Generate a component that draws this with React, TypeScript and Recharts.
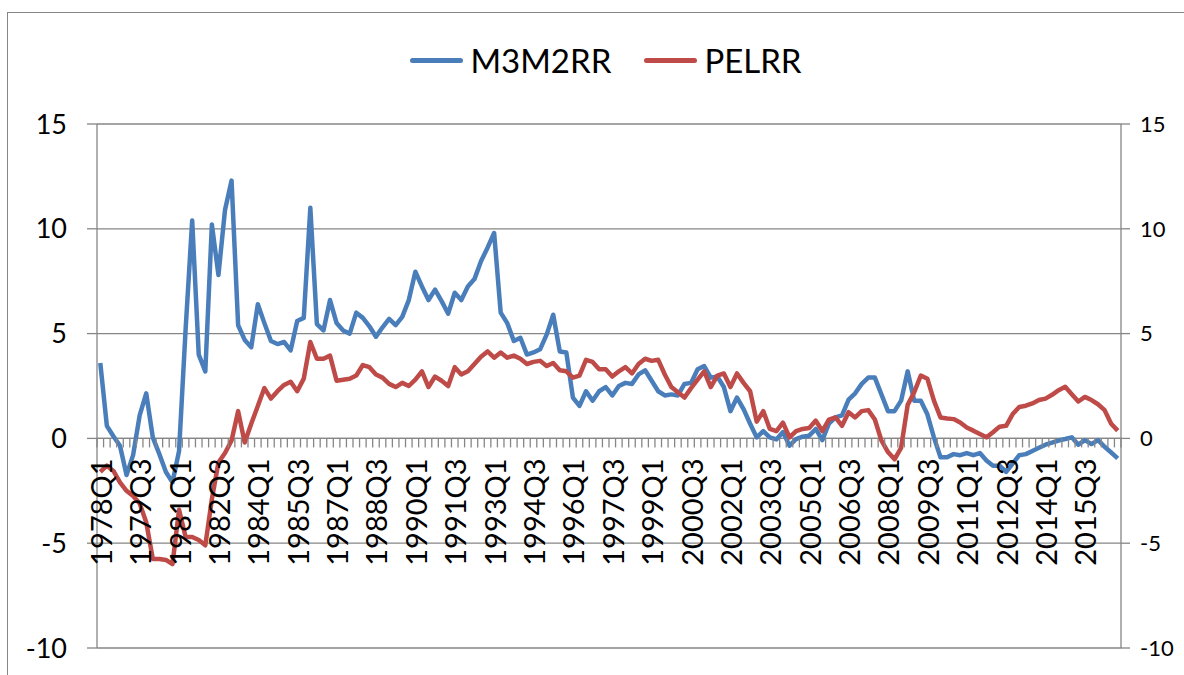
import { LineChart, Line, XAxis, YAxis, CartesianGrid, Legend, ReferenceLine } from 'recharts'

// quarterly labels 1978Q1 .. 2016Q4
const START_YEAR = 1978
const END_YEAR = 2016
const quarters: string[] = []
for (let y = START_YEAR; y <= END_YEAR; y++) {
  for (let q = 1; q <= 4; q++) quarters.push(`${y}Q${q}`)
}

const m3m2rr = [
  3.6, 0.6, 0.1, -0.35, -1.75, -0.8, 1.1, 2.15, 0.05, -0.75,
  -1.6, -2.1, -0.6, 5.2, 10.4, 4.0, 3.2, 10.2, 7.8, 10.9,
  12.3, 5.4, 4.7, 4.35, 6.4, 5.5, 4.65, 4.5, 4.6, 4.2,
  5.6, 5.75, 11.0, 5.45, 5.15, 6.6, 5.5, 5.15, 5.0, 6.0,
  5.75, 5.35, 4.85, 5.3, 5.7, 5.4, 5.8, 6.6, 7.95, 7.25,
  6.6, 7.1, 6.55, 5.95, 6.95, 6.6, 7.25, 7.6, 8.45, 9.1,
  9.8, 6.0, 5.5, 4.65, 4.8, 4.0, 4.1, 4.25, 4.95, 5.9,
  4.15, 4.1, 1.95, 1.55, 2.25, 1.8, 2.25, 2.45, 2.05, 2.5,
  2.65, 2.6, 3.05, 3.25, 2.75, 2.25, 2.05, 2.1, 2.05, 2.6,
  2.65, 3.3, 3.45, 2.9, 2.95, 2.45, 1.3, 1.95, 1.4, 0.7,
  0.05, 0.35, 0.05, -0.05, 0.3, -0.35, -0.03, 0.08, 0.13, 0.45,
  -0.08, 0.7, 1.0, 1.1, 1.85, 2.15, 2.6, 2.9, 2.9, 2.1,
  1.3, 1.3, 1.8, 3.2, 1.8, 1.8, 1.15, 0.05, -0.9, -0.9,
  -0.75, -0.8, -0.7, -0.8, -0.7, -1.05, -1.3, -1.3, -1.6, -1.2,
  -0.8, -0.75, -0.6, -0.45, -0.3, -0.2, -0.1, -0.03, 0.05, -0.3,
  -0.08, -0.27, -0.08, -0.4, -0.67, -0.95,
]

const pelrr = [
  -1.6, -1.3, -1.55, -2.1, -2.5, -2.75, -3.1, -4.0, -5.75, -5.75,
  -5.8, -6.0, -3.4, -4.7, -4.7, -4.85, -5.1, -2.9, -1.15, -0.7,
  -0.1, 1.3, -0.2, 0.7, 1.55, 2.4, 1.9, 2.25, 2.55, 2.7,
  2.25, 2.85, 4.6, 3.8, 3.8, 3.95, 2.75, 2.8, 2.85, 3.0,
  3.5, 3.4, 3.05, 2.9, 2.6, 2.45, 2.65, 2.5, 2.8, 3.2,
  2.45, 2.95, 2.75, 2.5, 3.4, 3.05, 3.2, 3.55, 3.9, 4.15,
  3.85, 4.1, 3.85, 3.95, 3.8, 3.55, 3.65, 3.7, 3.45, 3.6,
  3.25, 3.2, 2.9, 3.0, 3.75, 3.65, 3.3, 3.3, 2.95, 3.2,
  3.4, 3.1, 3.55, 3.8, 3.7, 3.75, 3.05, 2.45, 2.2, 1.95,
  2.4, 2.8, 3.2, 2.45, 3.0, 3.1, 2.45, 3.1, 2.65, 2.25,
  0.8, 1.3, 0.45, 0.35, 0.75, 0.05, 0.35, 0.45, 0.5, 0.85,
  0.35, 0.9, 1.0, 0.6, 1.25, 1.0, 1.3, 1.35, 0.9, -0.1,
  -0.65, -1.0, -0.45, 1.6, 2.2, 3.0, 2.85, 1.8, 1.0, 0.95,
  0.92, 0.76, 0.52, 0.37, 0.21, 0.05, 0.29, 0.56, 0.6, 1.16,
  1.5, 1.56, 1.67, 1.83, 1.9, 2.08, 2.3, 2.46, 2.11, 1.76,
  1.98, 1.83, 1.63, 1.35, 0.7, 0.37,
]

const yTicks = [-10, -5, 0, 5, 10, 15]
const LABEL_EVERY = 6

const data = quarters.map((q, i) => ({ q, M3M2RR: m3m2rr[i], PELRR: pelrr[i] }))

const W = 1184
const H = 675
const LEFT_AXIS_W = 97
const RIGHT_AXIS_W = 63
const TOP = 124
const X_AXIS_H = 1
const BOTTOM = 26
const PLOT_W = W - LEFT_AXIS_W - RIGHT_AXIS_W
const PLOT_H = H - TOP - BOTTOM - X_AXIS_H
const CAT_W = PLOT_W / data.length
const Y_MIN = yTicks[0]
const Y_MAX = yTicks[yTicks.length - 1]
// the category axis crosses the value axis at 0
const ZERO_Y = TOP + ((Y_MAX - 0) / (Y_MAX - Y_MIN)) * PLOT_H
const GRID = '#868686'
const FONT = 'Lato, "Open Sans", sans-serif'

function QuarterTick(props: any) {
  const { x, payload } = props
  const idx = payload?.index ?? props.index ?? 0
  const last = idx === data.length - 1
  const ly = ZERO_Y + 20
  return (
    <g>
      <line x1={x - CAT_W / 2} x2={x - CAT_W / 2} y1={ZERO_Y} y2={ZERO_Y + 9} stroke={GRID} strokeWidth={1.3} />
      {last && <line x1={x + CAT_W / 2} x2={x + CAT_W / 2} y1={ZERO_Y} y2={ZERO_Y + 9} stroke={GRID} strokeWidth={1.3} />}
      {idx % LABEL_EVERY === 0 && (
        <text
          x={x}
          y={ly}
          transform={`rotate(-90, ${x}, ${ly})`}
          textAnchor="end"
          dominantBaseline="central"
          fontSize={29}
          fontFamily={FONT}
          fill="#000"
        >
          {payload.value}
        </text>
      )}
    </g>
  )
}

function LegendContent({ payload }: any) {
  return (
    <div style={{ display: 'flex', justifyContent: 'center', alignItems: 'center', gap: 33, fontFamily: FONT }}>
      {(payload || []).map((p: any) => (
        <div key={p.value} style={{ display: 'flex', alignItems: 'center' }}>
          <span style={{ display: 'inline-block', width: 53, height: 5, borderRadius: 3, background: p.color, marginRight: 7 }} />
          <span style={{ fontSize: 33, color: '#000', lineHeight: '40px' }}>{p.value}</span>
        </div>
      ))}
    </div>
  )
}

export default function App() {
  return (
    <div style={{ position: 'fixed', left: 0, top: 0, width: W, height: H, overflow: 'hidden', background: '#fff' }}>
      <div style={{ position: 'absolute', left: 7, top: 12, width: 1400, height: 900, border: `1.5px solid ${GRID}` }} />
      <div style={{ position: 'absolute', left: 0, top: 0 }}>
        <LineChart width={W} height={H} data={data} margin={{ top: TOP, right: 0, bottom: BOTTOM, left: 0 }}>
          <CartesianGrid yAxisId="left" vertical={false} stroke={GRID} strokeWidth={1.3} />
          <XAxis
            dataKey="q"
            interval={0}
            height={X_AXIS_H}
            axisLine={false}
            tickLine={false}
            padding={{ left: CAT_W / 2, right: CAT_W / 2 }}
            tick={<QuarterTick />}
          />
          <YAxis
            yAxisId="left"
            width={LEFT_AXIS_W}
            domain={[Y_MIN, Y_MAX]}
            ticks={yTicks}
            interval={0}
            tickSize={10}
            tickMargin={20}
            axisLine={{ stroke: GRID, strokeWidth: 1.3 }}
            tickLine={{ stroke: GRID, strokeWidth: 1.3 }}
            tick={{ fill: '#000', fontSize: 27, fontFamily: FONT }}
          />
          <YAxis
            yAxisId="right"
            orientation="right"
            width={RIGHT_AXIS_W}
            domain={[Y_MIN, Y_MAX]}
            ticks={yTicks}
            interval={0}
            tickSize={9}
            tickMargin={10}
            axisLine={{ stroke: GRID, strokeWidth: 1.3 }}
            tickLine={{ stroke: GRID, strokeWidth: 1.3 }}
            tick={{ fill: '#000', fontSize: 22, fontFamily: FONT }}
          />
          <ReferenceLine yAxisId="left" y={0} stroke={GRID} strokeWidth={1.3} />
          <Legend verticalAlign="middle" align="center" layout="horizontal" wrapperStyle={{ top: 40, left: 14, width: W }} content={<LegendContent />} />
          <Line yAxisId="left" type="linear" dataKey="M3M2RR" name="M3M2RR" stroke="#4A7EBB" strokeWidth={4.5} dot={false} strokeLinejoin="round" isAnimationActive={false} />
          <Line yAxisId="right" type="linear" dataKey="PELRR" name="PELRR" stroke="#BE4B48" strokeWidth={4.5} dot={false} strokeLinejoin="round" isAnimationActive={false} />
        </LineChart>
      </div>
    </div>
  )
}
